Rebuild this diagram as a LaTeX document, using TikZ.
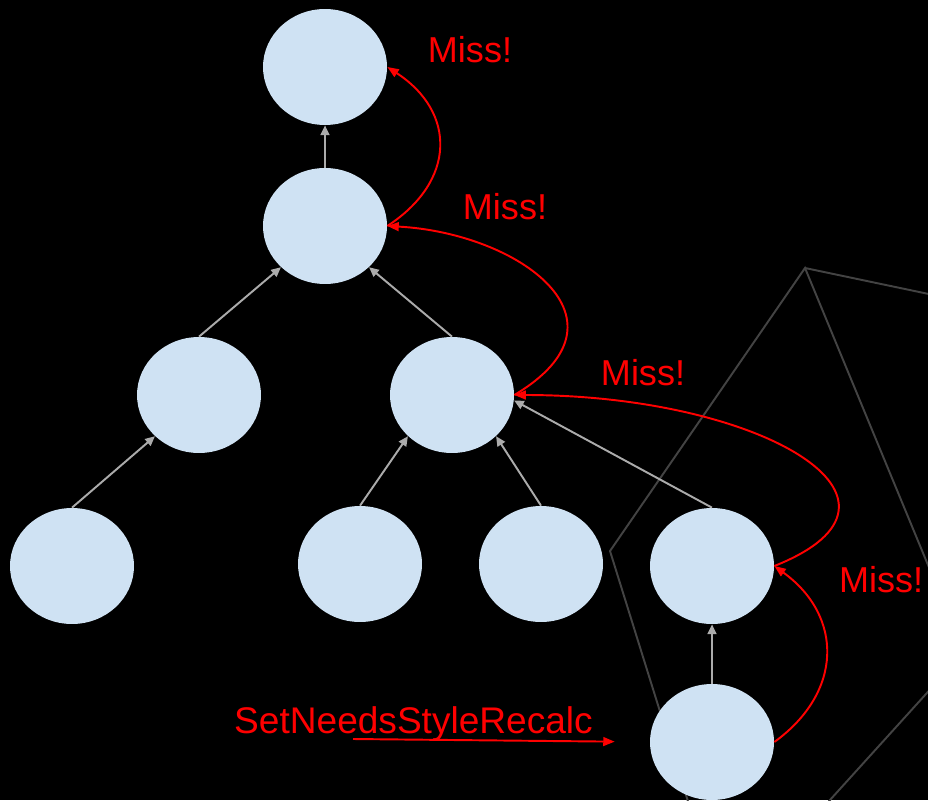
\documentclass[tikz,border=0pt]{standalone}
\usepackage{fontspec}
\setmainfont{Liberation Sans}
\usetikzlibrary{arrows.meta,shapes.geometric}
\definecolor{dugumrenk}{HTML}{CFE2F3}
\definecolor{kenarrenk}{HTML}{ABABAB}
\definecolor{cizgirenk}{HTML}{434343}

\begin{document}
\begin{tikzpicture}[x=0.02cm,y=-0.02cm,
  dugum/.style={ellipse,fill=dugumrenk,minimum width=2.48cm,minimum height=2.32cm,inner sep=0pt},
  kenar/.style={color=kenarrenk,line width=1.1pt,-{Triangle[length=5.5pt,width=5pt]}},
  kacir/.style={red,line width=1.1pt,-{Triangle[length=6.5pt,width=5pt]}},
  yazi/.style={red,font=\fontsize{20.5}{24}\selectfont,anchor=base}]
\useasboundingbox (0,0) rectangle (928,800);
\fill[black] (0,0) rectangle (928,800);
\clip (0,0) rectangle (928,800);

% Arkadaki gri çerçeve
\draw[cizgirenk,line width=1.1pt] (805,268) -- (964,652) -- (724,917) -- (610,551) -- cycle;
\draw[cizgirenk,line width=1.1pt] (805,268) -- (1000,309);

% Düğümler
\node[dugum] (kok) at (325,67) {};
\node[dugum] (ata) at (325,226) {};
\node[dugum] (sol) at (199,395) {};
\node[dugum] (sag) at (452,395) {};
\node[dugum] (a) at (72,566) {};
\node[dugum] (b) at (360,564) {};
\node[dugum] (c) at (541,564) {};
\node[dugum] (d) at (712,566) {};
\node[dugum] (e) at (712,742) {};

% Ağaç kenarları
\draw[kenar] (ata.north) -- (kok.south);
\draw[kenar] (sol.north) -- (ata.south west);
\draw[kenar] (sag.north) -- (ata.south east);
\draw[kenar] (a.north) -- (sol.south west);
\draw[kenar] (b.north) -- (sag.south west);
\draw[kenar] (c.north) -- (sag.south east);
\draw[kenar] (d.north) -- (sag.-5);
\draw[kenar] (e.north) -- (d.south);

% Kaçırılan aramalar
\draw[kacir] (ata.east) .. controls +(69,-45) and +(69,45) .. (kok.east);
\draw[kacir] (sag.east) .. controls +(126,-75) and +(131,7) .. (ata.east);
\draw[kacir] (d.east) .. controls +(166,-66) and +(246,0) .. (sag.east);
\draw[kacir] (e.east) .. controls +(69,-50) and +(69,50) .. (d.east);

\node[yazi] (m1) at (470,63) {Miss!};
\node[yazi] (m2) at (505,220) {Miss!};
\node[yazi] (m3) at (643,385) {Miss!};
\node[yazi] (m4) at (881,592) {Miss!};

% Başlangıç
\node[yazi,font=\fontsize{21.1}{25}\selectfont] (tetik) at (413.5,733) {SetNeedsStyleRecalc};
\coordinate (bas) at (353,739);
\draw[kacir,shorten >=0.7cm] (bas) -- (e.west);

\end{tikzpicture}
\end{document}
